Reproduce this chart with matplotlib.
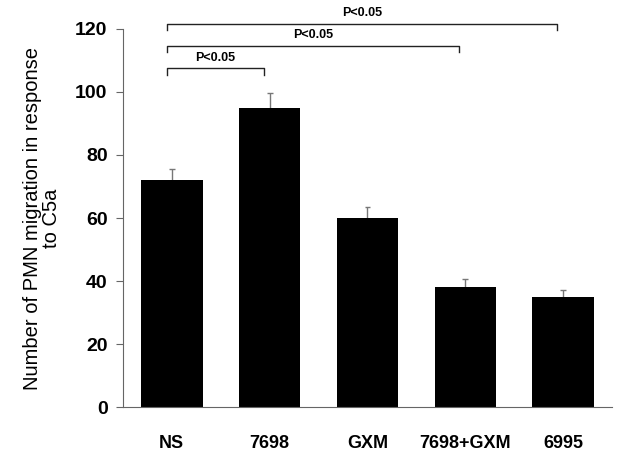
import matplotlib
matplotlib.use("Agg")
import matplotlib.pyplot as plt
import numpy as np

plt.rcParams["font.family"] = ["Liberation Sans", "DejaVu Sans"]

groups = ["NS", "7698", "GXM", "7698+GXM", "6995"]
means = np.array([72, 95, 60, 38, 35])
errs = np.array([3.7, 4.5, 3.5, 2.5, 2.2])

# significance brackets: (left group, right group, height)
brackets = [(0, 1, 107.5), (0, 3, 114.5), (0, 4, 121.5)]
sig_text = "P<0.05"

fig = plt.figure(figsize=(6.43, 4.58), dpi=100)
ax = fig.add_axes([0.191, 0.111, 0.761, 0.826])

x = np.arange(len(groups))
ax.bar(x, means, width=0.63, color="black", zorder=2)
# upper-only error bars
ax.vlines(x, means, means + errs, color="#777777", lw=1, zorder=1)
ax.hlines(means + errs, x - 0.03, x + 0.03, color="#777777", lw=1, zorder=1)

ax.set_xlim(-0.5, 4.5)
ax.set_ylim(0, 120)
ax.set_yticks(np.arange(0, 121, 20))
ax.set_xticks(x)
ax.set_xticklabels(groups, fontsize=13, fontweight="bold")
ax.tick_params(axis="x", length=0, pad=20)
ax.tick_params(axis="y", labelsize=14, direction="out", length=5,
               color="#666666", pad=6)
for lab in ax.get_yticklabels():
    lab.set_fontweight("bold")
for s in ["top", "right"]:
    ax.spines[s].set_visible(False)
for s in ["left", "bottom"]:
    ax.spines[s].set_color("#666666")
    ax.spines[s].set_linewidth(0.8)

ax.set_ylabel("Number of PMN migration in response\nto C5a", fontsize=14.5,
              labelpad=10, linespacing=1.0)

for i, j, h in brackets:
    xl, xr = x[i] - 0.05, x[j] - 0.06
    ax.plot([xl, xl, xr, xr], [h - 2, h, h, h - 2], color="#222222",
            lw=1, clip_on=False)
    ax.text((xl + xr) / 2, h + 1.5, sig_text, ha="center", va="bottom",
            fontsize=9, fontweight="bold", clip_on=False)

fig.savefig("out.png", dpi=100)
